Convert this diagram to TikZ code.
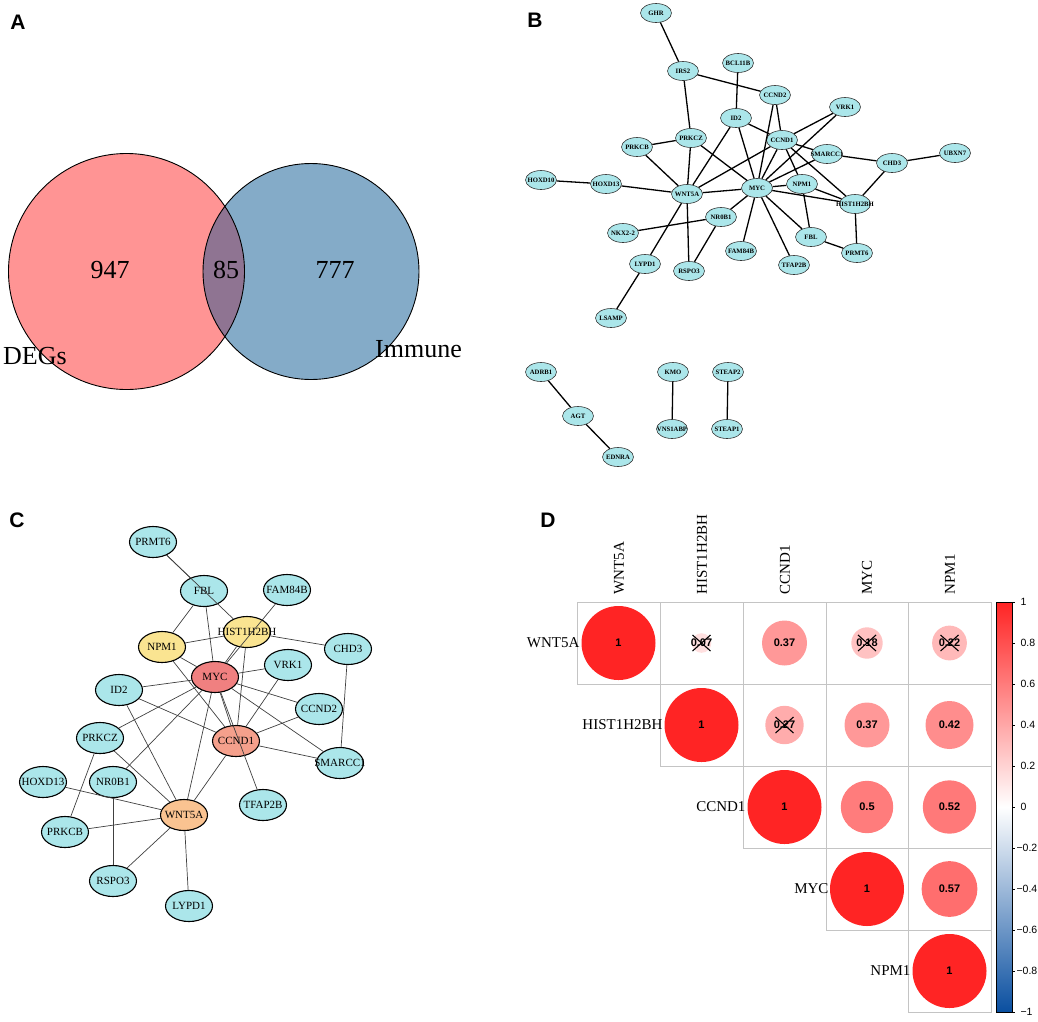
\documentclass[tikz,border=0pt]{standalone}
\usepackage{fontspec}
\setmainfont{Liberation Serif}
\newfontfamily\sansf{Liberation Sans}
\usetikzlibrary{shapes.geometric}

\definecolor{vennred}{HTML}{FF9494}
\definecolor{vennblue}{HTML}{84ABC8}
\definecolor{vennmix}{HTML}{8F7492}
\definecolor{nodecyan}{HTML}{ABE6EA}
\definecolor{mycred}{HTML}{F08080}
\definecolor{ccndsalmon}{HTML}{F5A08C}
\definecolor{wntpeach}{HTML}{FAC391}
\definecolor{hubyellow}{HTML}{FAE491}
\definecolor{corrred}{HTML}{FF2424}
\definecolor{corrblue}{HTML}{0A4FA0}
\definecolor{gridgray}{HTML}{C4C4C4}

\begin{document}
\begin{tikzpicture}[x=1pt, y=-1pt,
  panel/.style={font=\sansf\bfseries\fontsize{21}{24}\selectfont},
  venn/.style={font=\fontsize{26}{30}\selectfont},
  bv/.style={ellipse, draw=black!80, line width=0.6pt, fill=nodecyan, minimum width=31pt, minimum height=19pt, inner xsep=-8pt, inner ysep=0pt, font=\fontsize{6.7}{7}\selectfont\bfseries},
  be/.style={line width=1.3pt},
  cv/.style={ellipse, draw, line width=1.1pt, fill=nodecyan, minimum width=47pt, minimum height=31pt, inner xsep=-13pt, inner ysep=0pt, font=\fontsize{11}{12}\selectfont},
  ce/.style={line width=0.7pt, draw=black!75},
  cell/.style={draw=gridgray, line width=0.8pt},
  lab/.style={font=\fontsize{15}{17}\selectfont},
  val/.style={font=\sansf\bfseries\fontsize{11}{12}\selectfont},
  xmark/.style={line width=1.1pt},
  tick/.style={font=\sansf\fontsize{10.5}{12}\selectfont, anchor=west}
]
\useasboundingbox (0,0) rectangle (1038,1021);

% panel letters
\node[panel] (pA) at (18,22) {A};
\node[panel] (pB) at (535,20) {B};
\node[panel] (pC) at (17,520) {C};
\node[panel] (pD) at (548,520) {D};

% A: venn
\fill[vennred] (126.5,271.5) circle[radius=118pt];
\fill[vennblue] (311,271.5) circle[radius=108pt];
\begin{scope}
  \clip (126.5,271.5) circle[radius=118pt];
  \fill[vennmix] (311,271.5) circle[radius=108pt];
\end{scope}
\draw[line width=0.9pt] (126.5,271.5) circle[radius=118pt];
\draw[line width=0.9pt] (311,271.5) circle[radius=108pt];
\node[venn] (n947) at (110,270) {947};
\node[venn] (n85) at (226,270) {85};
\node[venn] (n777) at (335,270) {777};
\node[venn, anchor=west, inner sep=0pt] (degs) at (3,356) {DEGs};
\node[venn, anchor=west, inner sep=0pt] (immune) at (375,349) {Immune};

% B: full network
\node[bv] (bGHR) at (656,13) {GHR};
\node[bv] (bIRS2) at (683,71) {IRS2};
\node[bv] (bBCL11B) at (738,63) {BCL11B};
\node[bv] (bCCND2) at (775,95) {CCND2};
\node[bv] (bID2) at (736,118) {ID2};
\node[bv] (bVRK1) at (845,107) {VRK1};
\node[bv] (bPRKCZ) at (691,138) {PRKCZ};
\node[bv] (bPRKCB) at (637,147) {PRKCB};
\node[bv] (bCCND1) at (782,140) {CCND1};
\node[bv] (bSMARCC1) at (827,154) {SMARCC1};
\node[bv] (bCHD3) at (892,163) {CHD3};
\node[bv] (bUBXN7) at (955,153) {UBXN7};
\node[bv] (bHOXD10) at (541,180) {HOXD10};
\node[bv] (bHOXD13) at (606,184) {HOXD13};
\node[bv] (bWNT5A) at (687,194) {WNT5A};
\node[bv] (bMYC) at (757,188) {MYC};
\node[bv] (bNPM1) at (802,184) {NPM1};
\node[bv] (bHIST) at (855,204) {HIST1H2BH};
\node[bv] (bNR0B1) at (721,217) {NR0B1};
\node[bv] (bNKX) at (623,233) {NKX2-2};
\node[bv] (bFBL) at (811,237) {FBL};
\node[bv] (bPRMT6) at (857,253) {PRMT6};
\node[bv] (bFAM84B) at (741,251) {FAM84B};
\node[bv] (bLYPD1) at (645,264) {LYPD1};
\node[bv] (bRSPO3) at (689,271) {RSPO3};
\node[bv] (bTFAP2B) at (794,265) {TFAP2B};
\node[bv] (bLSAMP) at (611,318) {LSAMP};
\node[bv] (bADRB1) at (541,372) {ADRB1};
\node[bv] (bAGT) at (578,416) {AGT};
\node[bv] (bEDNRA) at (618,457) {EDNRA};
\node[bv] (bKMO) at (673,372) {KMO};
\node[bv] (bVNS) at (672,429) {VNS1ABP};
\node[bv] (bSTEAP2) at (728,372) {STEAP2};
\node[bv] (bSTEAP1) at (727,429) {STEAP1};

\draw[be] (bGHR)--(bIRS2);
\draw[be] (bIRS2)--(bCCND2);
\draw[be] (bIRS2)--(bPRKCZ);
\draw[be] (bBCL11B)--(bID2);
\draw[be] (bID2)--(bCCND1);
\draw[be] (bID2)--(bWNT5A);
\draw[be] (bID2)--(bMYC);
\draw[be] (bPRKCB)--(bPRKCZ);
\draw[be] (bPRKCB)--(bWNT5A);
\draw[be] (bPRKCZ)--(bWNT5A);
\draw[be] (bPRKCZ)--(bMYC);
\draw[be] (bHOXD10)--(bHOXD13);
\draw[be] (bHOXD13)--(bWNT5A);
\draw[be] (bWNT5A)--(bMYC);
\draw[be] (bWNT5A)--(bCCND1);
\draw[be] (bCCND2)--(bCCND1);
\draw[be] (bCCND2)--(bMYC);
\draw[be] (bVRK1)--(bCCND1);
\draw[be] (bVRK1)--(bMYC);
\draw[be] (bCCND1)--(bSMARCC1);
\draw[be] (bCCND1)--(bNPM1);
\draw[be] (bCCND1)--(bHIST);
\draw[be] (bCCND1)--(bMYC);
\draw[be] (bSMARCC1)--(bMYC);
\draw[be] (bSMARCC1)--(bCHD3);
\draw[be] (bCHD3)--(bUBXN7);
\draw[be] (bCHD3)--(bHIST);
\draw[be] (bMYC)--(bNPM1);
\draw[be] (bMYC)--(bHIST);
\draw[be] (bNPM1)--(bHIST);
\draw[be] (bNPM1)--(bFBL);
\draw[be] (bHIST)--(bPRMT6);
\draw[be] (bFBL)--(bPRMT6);
\draw[be] (bMYC)--(bFBL);
\draw[be] (bMYC)--(bTFAP2B);
\draw[be] (bMYC)--(bFAM84B);
\draw[be] (bMYC)--(bNR0B1);
\draw[be] (bNKX)--(bNR0B1);
\draw[be] (bNR0B1)--(bRSPO3);
\draw[be] (bWNT5A)--(bRSPO3);
\draw[be] (bWNT5A)--(bLYPD1);
\draw[be] (bLYPD1)--(bLSAMP);
\draw[be] (bADRB1)--(bAGT);
\draw[be] (bAGT)--(bEDNRA);
\draw[be] (bKMO)--(bVNS);
\draw[be] (bSTEAP2)--(bSTEAP1);

% C: hub network
\node[cv] (cPRMT6) at (153,542) {PRMT6};
\node[cv] (cFBL) at (204,591) {FBL};
\node[cv] (cFAM84B) at (287,590) {FAM84B};
\node[cv, fill=hubyellow] (cHIST) at (247,632) {HIST1H2BH};
\node[cv, fill=hubyellow] (cNPM1) at (162,647) {NPM1};
\node[cv, fill=mycred] (cMYC) at (215,677) {MYC};
\node[cv] (cID2) at (119,690) {ID2};
\node[cv] (cVRK1) at (288,665) {VRK1};
\node[cv] (cCHD3) at (348,649) {CHD3};
\node[cv] (cCCND2) at (319,709) {CCND2};
\node[cv, fill=ccndsalmon] (cCCND1) at (236,741) {CCND1};
\node[cv] (cSMARCC1) at (340,763) {SMARCC1};
\node[cv] (cPRKCZ) at (100,738) {PRKCZ};
\node[cv] (cHOXD13) at (43,782) {HOXD13};
\node[cv] (cNR0B1) at (113,782) {NR0B1};
\node[cv, fill=wntpeach] (cWNT5A) at (184,815) {WNT5A};
\node[cv] (cTFAP2B) at (263,805) {TFAP2B};
\node[cv] (cPRKCB) at (65,832) {PRKCB};
\node[cv] (cRSPO3) at (113,881) {RSPO3};
\node[cv] (cLYPD1) at (189,906) {LYPD1};

\draw[ce] (cPRMT6)--(cHIST);
\draw[ce] (cPRMT6)--(cFBL);
\draw[ce] (cFBL)--(cNPM1);
\draw[ce] (cFBL)--(cMYC);
\draw[ce] (cNPM1)--(cHIST);
\draw[ce] (cNPM1)--(cMYC);
\draw[ce] (cNPM1)--(cCCND1);
\draw[ce] (cFAM84B)--(cMYC);
\draw[ce] (cHIST)--(cMYC);
\draw[ce] (cHIST)--(cCHD3);
\draw[ce] (cHIST)--(cCCND1);
\draw[ce] (cMYC)--(cID2);
\draw[ce] (cMYC)--(cVRK1);
\draw[ce] (cMYC)--(cCCND2);
\draw[ce] (cMYC)--(cSMARCC1);
\draw[ce] (cMYC)--(cCCND1);
\draw[ce] (cMYC)--(cTFAP2B);
\draw[ce] (cMYC)--(cPRKCZ);
\draw[ce] (cMYC)--(cNR0B1);
\draw[ce] (cMYC)--(cWNT5A);
\draw[ce] (cCCND1)--(cVRK1);
\draw[ce] (cCCND1)--(cCCND2);
\draw[ce] (cCCND1)--(cSMARCC1);
\draw[ce] (cCCND1)--(cID2);
\draw[ce] (cCCND1)--(cWNT5A);
\draw[ce] (cCHD3)--(cSMARCC1);
\draw[ce] (cID2)--(cWNT5A);
\draw[ce] (cPRKCZ)--(cWNT5A);
\draw[ce] (cPRKCZ)--(cPRKCB);
\draw[ce] (cHOXD13)--(cWNT5A);
\draw[ce] (cNR0B1)--(cRSPO3);
\draw[ce] (cPRKCB)--(cWNT5A);
\draw[ce] (cWNT5A)--(cRSPO3);
\draw[ce] (cWNT5A)--(cLYPD1);

% D: correlation matrix
\draw[cell] (577,602) rectangle (660,684);
\draw[cell] (660,602) rectangle (743,684);
\draw[cell] (743,602) rectangle (826,684);
\draw[cell] (826,602) rectangle (908,684);
\draw[cell] (908,602) rectangle (991,684);
\draw[cell] (660,684) rectangle (743,766);
\draw[cell] (743,684) rectangle (826,766);
\draw[cell] (826,684) rectangle (908,766);
\draw[cell] (908,684) rectangle (991,766);
\draw[cell] (743,766) rectangle (826,848);
\draw[cell] (826,766) rectangle (908,848);
\draw[cell] (908,766) rectangle (991,848);
\draw[cell] (826,848) rectangle (908,930);
\draw[cell] (908,848) rectangle (991,930);
\draw[cell] (908,930) rectangle (991,1012);

\node[lab, rotate=90, anchor=west] (kWNT5A) at (619,598) {WNT5A};
\node[lab, rotate=90, anchor=west] (kHIST) at (702,598) {HIST1H2BH};
\node[lab, rotate=90, anchor=west] (kCCND1) at (785,598) {CCND1};
\node[lab, rotate=90, anchor=west] (kMYC) at (867,598) {MYC};
\node[lab, rotate=90, anchor=west] (kNPM1) at (950,598) {NPM1};

\node[lab, anchor=east] (rWNT5A) at (583,643) {WNT5A};
\node[lab, anchor=east] (rHIST) at (666,725) {HIST1H2BH};
\node[lab, anchor=east] (rCCND1) at (749,807) {CCND1};
\node[lab, anchor=east] (rMYC) at (832,889) {MYC};
\node[lab, anchor=east] (rNPM1) at (914,971) {NPM1};

% row 1
\fill[corrred] (618.5,643) circle[radius=37pt];
\node[val] (v11) at (618.5,643) {1};
\fill[corrred!14!white] (701.5,643) circle[radius=9.8pt];
\node[val] (v12) at (701.5,643) {0.07};
\draw[xmark] (692.5,635) -- (710.5,651);
\draw[xmark] (692.5,651) -- (710.5,635);
\fill[corrred!47!white] (784.5,643) circle[radius=22.5pt];
\node[val] (v13) at (784.5,643) {0.37};
\fill[corrred!28!white] (867,643) circle[radius=15.7pt];
\node[val] (v14) at (867,643) {0.18};
\draw[xmark] (858,635) -- (876,651);
\draw[xmark] (858,651) -- (876,635);
\fill[corrred!32!white] (949.5,643) circle[radius=17.4pt];
\node[val] (v15) at (949.5,643) {0.22};
\draw[xmark] (940.5,635) -- (958.5,651);
\draw[xmark] (940.5,651) -- (958.5,635);
% row 2
\fill[corrred] (701.5,725) circle[radius=37pt];
\node[val] (v22) at (701.5,725) {1};
\fill[corrred!38!white] (784.5,725) circle[radius=19.2pt];
\node[val] (v23) at (784.5,725) {0.27};
\draw[xmark] (775.5,717) -- (793.5,733);
\draw[xmark] (775.5,733) -- (793.5,717);
\fill[corrred!47!white] (867,725) circle[radius=22.5pt];
\node[val] (v24) at (867,725) {0.37};
\fill[corrred!52!white] (949.5,725) circle[radius=24pt];
\node[val] (v25) at (949.5,725) {0.42};
% row 3
\fill[corrred] (784.5,807) circle[radius=37pt];
\node[val] (v33) at (784.5,807) {1};
\fill[corrred!60!white] (867,807) circle[radius=26.2pt];
\node[val] (v34) at (867,807) {0.5};
\fill[corrred!61!white] (949.5,807) circle[radius=26.7pt];
\node[val] (v35) at (949.5,807) {0.52};
% row 4
\fill[corrred] (867,889) circle[radius=37pt];
\node[val] (v44) at (867,889) {1};
\fill[corrred!66!white] (949.5,889) circle[radius=27.9pt];
\node[val] (v45) at (949.5,889) {0.57};
% row 5
\fill[corrred] (949.5,971) circle[radius=37pt];
\node[val] (v55) at (949.5,971) {1};

% colour bar
\shade[top color=corrred, bottom color=white] (996,602) rectangle (1012,807);
\shade[top color=white, bottom color=corrblue] (996,807) rectangle (1012,1012);
\draw[line width=0.6pt] (996,602) rectangle (1012,1012);
\draw[line width=0.6pt] (1012,602) -- (1015,602) (1012,643) -- (1015,643) (1012,684) -- (1015,684)
  (1012,725) -- (1015,725) (1012,766) -- (1015,766) (1012,807) -- (1015,807) (1012,848) -- (1015,848)
  (1012,889) -- (1015,889) (1012,930) -- (1015,930) (1012,971) -- (1015,971) (1012,1012) -- (1015,1012);
\node[tick] (t10) at (1017,602) {1};
\node[tick] (t08) at (1017,643) {0.8};
\node[tick] (t06) at (1017,684) {0.6};
\node[tick] (t04) at (1017,725) {0.4};
\node[tick] (t02) at (1017,766) {0.2};
\node[tick] (t00) at (1017,807) {0};
\node[tick] (tm2) at (1013,848) {−0.2};
\node[tick] (tm4) at (1013,889) {−0.4};
\node[tick] (tm6) at (1013,930) {−0.6};
\node[tick] (tm8) at (1013,971) {−0.8};
\node[tick] (tm10) at (1017,1012) {−1};
\end{tikzpicture}
\end{document}
